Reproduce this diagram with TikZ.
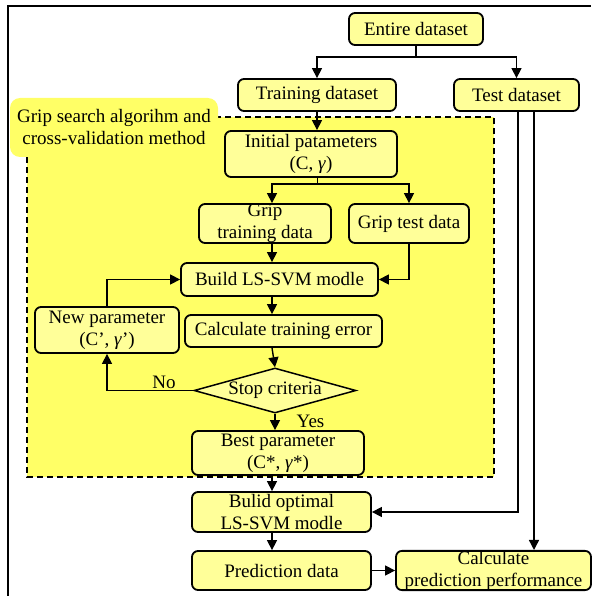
\documentclass[tikz,border=0pt]{standalone}
\usepackage{fontspec}
\setmainfont{Liberation Serif}
\usetikzlibrary{arrows.meta,shapes.geometric,positioning,calc}
\definecolor{boxfill}{RGB}{255,255,153}
\definecolor{zonefill}{RGB}{255,255,102}
\newcommand{\flowfont}{\fontsize{19}{22}\selectfont}
\tikzset{
    flow/.style={-{Triangle[length=10pt, width=10pt]}, line width=1.4pt},
    stage/.style={draw, line width=1.8pt, rounded corners=6pt, fill=boxfill, inner sep=0pt, align=center, font=\flowfont},
    check/.style={draw, diamond, line width=1.5pt, fill=boxfill, inner sep=0pt, aspect=3.6, font=\flowfont},
    zone/.style={draw, fill=zonefill, dash pattern=on 6pt off 4pt, line width=1.5pt},
    tag/.style={font=\flowfont, inner sep=1pt}
}
\begin{document}
\begin{tikzpicture}[x=1pt, y=-1pt]
            \useasboundingbox (0,0) rectangle (591,596);
            % Frame
            \draw[line width=1.5pt] (8,596) -- (8,6) -- (591,6);
            
            % Grid search zone
            \draw[zone] (27,117) rectangle (494,477);
            \node[fill=zonefill, rounded corners=10pt, minimum width=208pt, minimum height=59pt, inner sep=0pt, align=center, font=\flowfont] (zonetag) at (114,127.5) {Grip search algorihm and\\cross-validation method};
            
            % Data split
            \node[stage, minimum width=134pt, minimum height=32pt] (entire) at (416,29) {Entire dataset};
            \node[stage, minimum width=158pt, minimum height=32pt] (train) at (317,95) {Training dataset};
            \node[stage, minimum width=125pt, minimum height=32pt] (test) at (516.5,95) {Test dataset};
            \draw[flow] (entire.south) -- ++(0,11) -| (train.north);
            \draw[flow] (entire.south) -- ++(0,11) -| (test.north);
            
            % Search loop
            \coordinate (axis) at (272,0);
            \node[stage, minimum width=172pt, minimum height=46pt] (init) at (311,154) {Initial patameters\\(C, \textit{γ})};
            \node[stage, minimum width=132pt, minimum height=39pt] (gtrain) at (265,223.5) {Grip\\training data};
            \node[stage, minimum width=120pt, minimum height=39pt] (gtest) at (409,223.5) {Grip test data};
            \node[stage, minimum width=197pt, minimum height=33pt] (build) at (279.5,279.5) {Build LS-SVM modle};
            \node[stage, minimum width=144pt, minimum height=46pt] (newpar) at (107,330) {New parameter\\(C', \textit{γ}')};
            \node[stage, minimum width=197pt, minimum height=32pt] (calc) at (283.5,331) {Calculate training error};
            \node[check, minimum width=162pt, minimum height=45pt] (stop) at (275,390.5) {Stop criteria};
            \node[stage, minimum width=172pt, minimum height=44pt] (best) at (278,453) {Best parameter\\(C*, \textit{γ}*)};
            \draw[flow] (train.south) -- (train.south |- init.north);
            \draw (init.south -| train.south) -- ++(0,6) coordinate (split);
            \draw[flow] (split) -| (gtrain.north -| axis);
            \draw[flow] (split) -| (gtest.north);
            \draw[flow] (gtrain.south -| axis) -- (build.north -| axis);
            \draw[flow] (gtest.south) |- (build.east);
            \draw[flow] (build.south -| axis) -- (calc.north -| axis);
            \draw[flow] (calc.south -| axis) -- (stop.north);
            \draw[flow] (stop.west) -| node[tag, above, pos=0.17] {No} (newpar.south);
            \draw[flow] (newpar.north) |- (build.west);
            \draw[flow] (stop.south) -- node[tag, right, xshift=20pt, pos=0.45] {Yes} (stop.south |- best.north);
            
            % Final model
            \node[stage, minimum width=179pt, minimum height=40pt] (bulid) at (281.5,512) {Bulid optimal\\LS-SVM modle};
            \node[stage, minimum width=179pt, minimum height=39pt] (pred) at (281.5,570.5) {Prediction data};
            \node[stage, minimum width=195pt, minimum height=39pt] (perf) at (493.5,570.5) {Calculate\\prediction performance};
            \draw[flow] (best.south -| axis) -- (bulid.north -| axis);
            \draw[flow] (bulid.south -| axis) -- (pred.north -| axis);
            \draw[flow] (pred.east) -- (perf.west);
            \draw[flow] ([xshift=1.5pt]test.south) |- (bulid.east);
            \draw[flow] ([xshift=17.5pt]test.south) -- ([xshift=17.5pt]test.south |- perf.north);
        \end{tikzpicture}
\end{document}
